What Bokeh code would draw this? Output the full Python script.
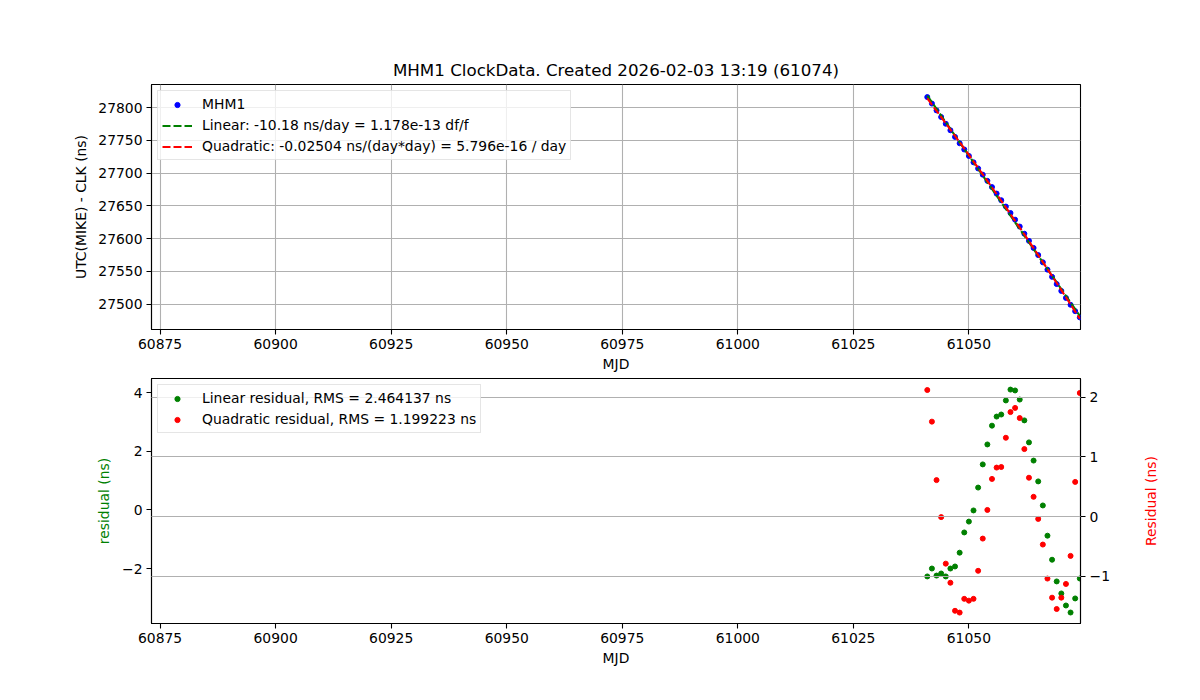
import math
import numpy as np
from bokeh.plotting import figure
from bokeh.models import Range1d, LinearAxis, FixedTicker, Grid, Legend, LegendItem, Label
from bokeh.layouts import column
from bokeh.embed import file_html
from bokeh.resources import INLINE

# ---------------- data ----------------
mjd = [61041, 61042, 61043, 61044, 61045, 61046, 61047, 61048, 61049, 61050,
       61051, 61052, 61053, 61054, 61055, 61056, 61057, 61058, 61059, 61060,
       61061, 61062, 61063, 61064, 61065, 61066, 61067, 61068, 61069, 61070,
       61071, 61072, 61073, 61074]

clock = [27815.9, 27806.0, 27795.6, 27785.5, 27775.2, 27765.3, 27755.2, 27745.5,
         27736.0, 27726.2, 27716.4, 27707.0, 27697.6, 27688.1, 27678.6, 27668.7,
         27658.6, 27648.9, 27639.1, 27628.9, 27618.4, 27607.5, 27596.6, 27585.8,
         27574.9, 27563.9, 27552.7, 27541.7, 27530.7, 27520.2, 27509.6, 27499.1,
         27489.4, 27479.9]

lin_res = [-2.27, -2.00, -2.24, -2.17, -2.27, -2.00, -1.93, -1.46, -0.77, -0.40,
           -0.02, 0.76, 1.55, 2.23, 2.87, 3.18, 3.25, 3.73, 4.10, 4.07,
           3.76, 3.05, 2.30, 1.68, 0.97, 0.15, -0.88, -1.70, -2.44, -2.85,
           -3.26, -3.50, -3.02, -2.34]

quad_res = [2.12, 1.59, 0.61, -0.01, -0.79, -1.11, -1.58, -1.61, -1.38, -1.41,
            -1.38, -0.91, -0.37, 0.11, 0.63, 0.82, 0.83, 1.32, 1.75, 1.82,
            1.65, 1.13, 0.65, 0.33, -0.04, -0.47, -1.04, -1.36, -1.55, -1.36,
            -1.13, -0.66, 0.58, 2.07]

x_ticks = [60875, 60900, 60925, 60950, 60975, 61000, 61025, 61050]
y_ticks_top = [27500, 27550, 27600, 27650, 27700, 27750, 27800]
y_ticks_left = [-2, 0, 2, 4]
y_ticks_right = [-1, 0, 1, 2]

title_text = "MHM1 ClockData. Created 2026-02-03 13:19 (61074)"
lin_label = "Linear: -10.18 ns/day = 1.178e-13 df/f"
quad_label = "Quadratic: -0.02504 ns/(day*day) = 5.796e-16 / day"
lres_label = "Linear residual, RMS = 2.464137 ns"
qres_label = "Quadratic residual, RMS = 1.199223 ns"

# fits derived from the data
t = np.array(mjd, dtype=float)
yv = np.array(clock)
t0 = t[0]
lin_fit = np.polyval(np.polyfit(t - t0, yv, 1), t - t0)
quad_fit = np.polyval(np.polyfit(t - t0, yv, 2), t - t0)

FONT = "DejaVu Sans"
TICK_FS = "13.9px"
GRID = "#b0b0b0"
MINUS = "\u2212"


def style_axis(ax, ticks):
    ax.ticker = FixedTicker(ticks=ticks, minor_ticks=[])
    ax.major_label_text_font = FONT
    ax.major_label_text_font_size = TICK_FS
    ax.major_label_text_color = "black"
    ax.axis_label_text_font = FONT
    ax.axis_label_text_font_size = TICK_FS
    ax.axis_label_text_font_style = "normal"
    ax.axis_label_text_color = "black"
    ax.major_tick_out = 5
    ax.major_tick_in = 0
    ax.major_tick_line_width = 1.1
    ax.minor_tick_line_color = None
    ax.axis_line_color = "black"
    ax.axis_line_width = 1.1
    ax.major_label_standoff = 4
    ax.major_label_overrides = {tk: (MINUS + str(-tk)) for tk in ticks if tk < 0}


def style_legend(lg):
    lg.label_text_font = FONT
    lg.label_text_font_size = TICK_FS
    lg.label_text_color = "black"
    lg.border_line_color = "#cccccc"
    lg.border_line_width = 1.1
    lg.background_fill_alpha = 0.8
    lg.margin = 6
    lg.padding = 4
    lg.spacing = 3
    lg.glyph_width = 30
    lg.glyph_height = 13
    lg.label_height = 18
    lg.label_standoff = 10


# ---------------- top figure ----------------
p1 = figure(width=1192, height=376,
            x_range=Range1d(60873.14, 61074.15),
            y_range=Range1d(27461.4, 27835.1),
            output_backend="svg", toolbar_location=None,
            min_border_left=151, min_border_right=112,
            min_border_top=84, min_border_bottom=47)
p1.title.text = title_text
p1.title.align = "center"
p1.title.text_font = FONT
p1.title.text_font_size = "16.7px"
p1.title.text_font_style = "normal"
p1.title.text_color = "black"
p1.title.standoff = 10
p1.outline_line_color = "black"
p1.outline_line_width = 1.1
p1.outline_line_alpha = 1

style_axis(p1.xaxis[0], x_ticks)
style_axis(p1.yaxis[0], y_ticks_top)
p1.xaxis[0].axis_label = "MJD"
p1.yaxis[0].axis_label = "UTC(MIKE) - CLK (ns)"
p1.xaxis[0].axis_label_standoff = 4
p1.yaxis[0].axis_label_standoff = 6
for g in (p1.xgrid[0], p1.ygrid[0]):
    g.grid_line_color = GRID
    g.grid_line_width = 1.1
p1.xgrid[0].ticker = FixedTicker(ticks=x_ticks, minor_ticks=[])
p1.ygrid[0].ticker = FixedTicker(ticks=y_ticks_top, minor_ticks=[])

r_pts = p1.scatter(mjd, clock, size=5, color="#0000ff", line_color="#0000ff")
r_lin = p1.line(t, lin_fit, line_color="#008000", line_width=2.1, line_dash="8 3")
r_quad = p1.line(t, quad_fit, line_color="#ff0000", line_width=2.1, line_dash="8 3")

leg1 = Legend(items=[LegendItem(label="MHM1", renderers=[r_pts]),
                     LegendItem(label=lin_label, renderers=[r_lin]),
                     LegendItem(label=quad_label, renderers=[r_quad])],
              location="top_left")
style_legend(leg1)
p1.add_layout(leg1)

# ---------------- bottom figure ----------------
p2 = figure(width=1192, height=297,
            x_range=Range1d(60873.14, 61074.15),
            y_range=Range1d(-3.874, 4.478),
            output_backend="svg", toolbar_location=None,
            min_border_left=151, min_border_right=112,
            min_border_top=2, min_border_bottom=50)
p2.extra_y_ranges = {"right": Range1d(-1.793, 2.313)}
p2.outline_line_color = "black"
p2.outline_line_width = 1.1
p2.outline_line_alpha = 1
p2.xgrid.visible = False
p2.ygrid.visible = False

style_axis(p2.xaxis[0], x_ticks)
style_axis(p2.yaxis[0], y_ticks_left)
p2.xaxis[0].axis_label = "MJD"
p2.xaxis[0].axis_label_standoff = 4
p2.yaxis[0].axis_label = "residual (ns)"
p2.yaxis[0].axis_label_text_color = "#008000"
p2.yaxis[0].axis_label_standoff = 7

rax = LinearAxis(y_range_name="right")
style_axis(rax, y_ticks_right)
p2.add_layout(rax, "right")

rlabel = Label(x=38, y=122.5, x_units="screen", y_units="screen",
               text="Residual (ns)", angle=math.pi / 2,
               text_align="center", text_baseline="middle",
               text_font=FONT, text_font_size=TICK_FS, text_color="#ff0000")
p2.add_layout(rlabel, "right")

r_lres = p2.scatter(mjd, lin_res, size=5, color="#008000", line_color="#008000")
r_qres = p2.scatter(mjd, quad_res, size=5, color="#ff0000", line_color="#ff0000",
                    y_range_name="right")

leg2 = Legend(items=[LegendItem(label=lres_label, renderers=[r_lres]),
                     LegendItem(label=qres_label, renderers=[r_qres])],
              location="top_left")
style_legend(leg2)
p2.add_layout(leg2)

rgrid = Grid(dimension=1, ticker=FixedTicker(ticks=y_ticks_right, minor_ticks=[]),
             y_range_name="right", grid_line_color=GRID, grid_line_width=1.1,
             level="annotation")
p2.add_layout(rgrid)

layout = column(p1, p2, spacing=0)
open("out.html", "w").write(file_html(layout, INLINE))
